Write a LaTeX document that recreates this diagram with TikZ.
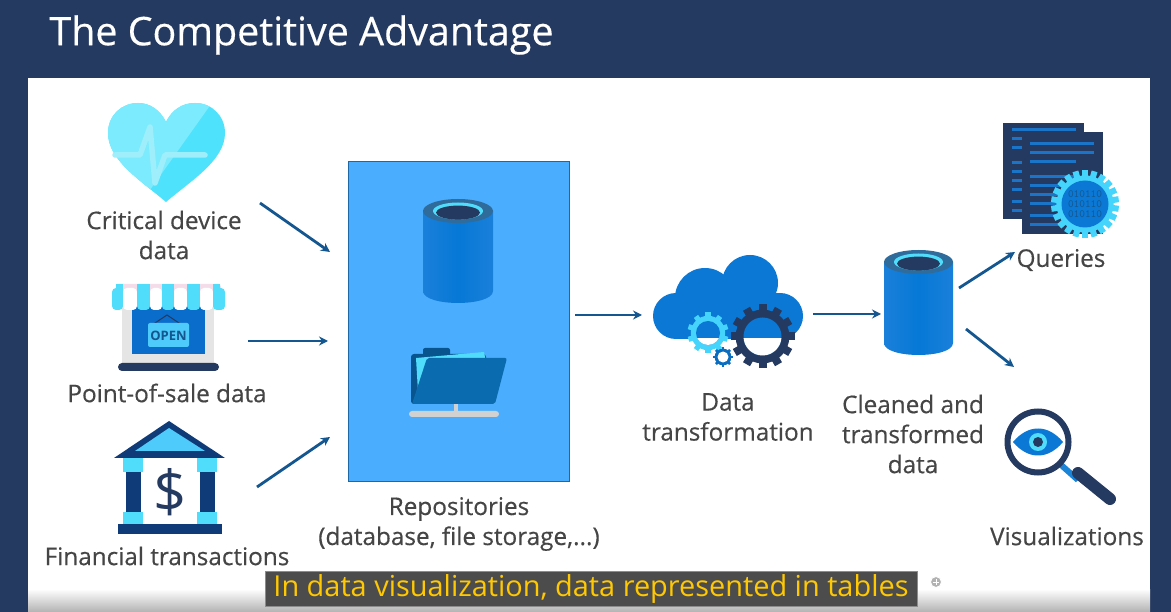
\documentclass[tikz,border=0pt]{standalone}
\usepackage{fontspec}
\setmainfont{Open Sans}
\newfontfamily\labfont{Open Sans}[RawFeature={embolden=0.4}]
\usetikzlibrary{arrows.meta}
\definecolor{navy}{HTML}{253A60}
\definecolor{arrowblue}{HTML}{14568F}
\definecolor{midblue}{HTML}{0678D6}
\definecolor{edgeblue}{HTML}{1A80DA}
\definecolor{cyanb}{HTML}{4FDDFB}
\definecolor{panelblue}{HTML}{4BADFE}
\definecolor{labelgrey}{HTML}{454545}
\definecolor{folderblue}{HTML}{0B6BAF}
\definecolor{heartbase}{HTML}{4FE2FC}
\definecolor{heartlight}{HTML}{7BEBFD}
\definecolor{heartlow}{HTML}{62E0FA}
\definecolor{pulse}{HTML}{9FEEFB}
\definecolor{doorblue}{HTML}{0A6DCB}
\definecolor{awningpink}{HTML}{F4DDE8}
\definecolor{signblue}{HTML}{4FCBFB}
\definecolor{bankblue}{HTML}{0F3C78}
\definecolor{folderdark}{HTML}{07548F}
\definecolor{cloudblue}{HTML}{0A78D4}
\definecolor{smallgear}{HTML}{0A6DC0}
\definecolor{lineblue}{HTML}{1A75C8}
\definecolor{gearcyan}{HTML}{45D4FB}
\definecolor{handleblue}{HTML}{1A85D8}
\definecolor{capyellow}{HTML}{FFC800}
\definecolor{ringblue}{HTML}{2F6C9C}
\tikzset{
  conn/.style={draw=arrowblue,line width=2.8pt,-{Stealth[length=9pt,width=9pt]}},
  lab/.style={text=labelgrey,font=\labfont\fontsize{24.3}{30}\selectfont,align=center,inner sep=0pt,anchor=center},
  x=1pt,y=-1pt
}
% gear: cx cy outer-radius tooth-half-width count colour
\newcommand{\gearshape}[6]{%
  \fill[#6] (#1,#2) circle[radius=0.84*#3];
  \foreach \gang in {1,...,#5}{%
    \fill[#6,rotate around={\gang*360/#5:(#1,#2)}] (#1-#4,#2) rectangle (#1+#4,#2-#3);
  }%
}
% cylinder: cx half-width cy-top cy-bottom ry
\newcommand{\cylinder}[5]{%
  \path[left color=edgeblue,right color=edgeblue,middle color=midblue]
    (#1-#2,#3) -- (#1-#2,#4) .. controls (#1-#2,#4+1.33*#5) and (#1+#2,#4+1.33*#5) .. (#1+#2,#4) -- (#1+#2,#3) -- cycle;
  \fill[ringblue] (#1,#3) ellipse[x radius=#2,y radius=#5];
  \fill[cyanb] (#1,#3) ellipse[x radius=#2-10,y radius=#5-3.5];
  \fill[navy] (#1,#3+1.6) ellipse[x radius=#2-13,y radius=#5-5];
}
\begin{document}
\begin{tikzpicture}
\useasboundingbox (0,0) rectangle (1171,612);
\fill[navy] (0,0) rectangle (1171,612);
\fill[white] (28,78) rectangle (1150,590);
\path[top color=white,bottom color=black!30] (28,589) rectangle (1150,612);
\node[text=white,font=\labfont\fontsize{39.4}{42}\selectfont,inner sep=0pt,anchor=center] (title) at (301.5,35) {The Competitive Advantage};

% heart
\begin{scope}
\clip (166,202) .. controls (140,180) and (108,160) .. (108,133) .. controls (108,115) and (122,103) .. (138,103) .. controls (150,103) and (160,110) .. (166,122) .. controls (172,110) and (182,103) .. (195,103) .. controls (212,103) and (225,116) .. (225,133) .. controls (225,160) and (192,180) .. (166,202) -- cycle;
\fill[heartbase] (100,100) rectangle (230,205);
\fill[heartlight] (100,100) -- (214,100) -- (150,190) -- (100,170) -- cycle;
\fill[heartlow] (100,170) -- (150,190) -- (166,205) -- (100,205) -- cycle;
\end{scope}
\draw[pulse,line width=5.5pt,line cap=round,line join=round] (115,155) -- (140,155) -- (150,127) -- (155,183) -- (165,155) -- (205,155);
\node[lab] (critical) at (164,235) {Critical device\\data};

% store
\fill[black!10] (122,306) rectangle (214,363);
\fill[doorblue] (132,303) rectangle (205,354);
\fill[awningpink,rounded corners=3pt] (116,284) rectangle (221,296);
\foreach \sx/\sw/\sc in {112/11/cyanb,123/14/white,137/13/cyanb,150/12/white,162/12/cyanb,174/13/white,187/13/cyanb,200/13/white,213/12/cyanb}{
  \fill[\sc,rounded corners=4pt] (\sx,288) rectangle (\sx+\sw,310);
}
\foreach \sx/\sw in {116/7,137/13,162/12,187/13,213/7}{ \fill[cyanb] (\sx,284) rectangle (\sx+\sw,296); }
\draw[navy,line width=1pt] (152,325) -- (167,315) -- (182,325);
\fill[signblue,rounded corners=2pt] (148,323) rectangle (189,347);
\node[font=\fontsize{13}{14}\selectfont\bfseries,text=arrowblue,inner sep=0pt] (open) at (168.5,336) {OPEN};
\fill[navy,rounded corners=4pt] (118,363) rectangle (219,371);
\node[lab] (pos) at (167,393) {Point-of-sale data};

% bank
\fill[bankblue] (169,421) -- (225,458) -- (114,458) -- cycle;
\fill[signblue] (169,428) -- (205,451) -- (135,451) -- cycle;
\foreach \bx in {133,207}{
  \fill[bankblue] (\bx-7.5,472) rectangle (\bx+7.5,512);
  \fill[cyanb] (\bx-10,458) rectangle (\bx+10,472);
  \fill[cyanb] (\bx-10,512) rectangle (\bx+10,524);
}
\fill[bankblue] (118,524) rectangle (222,534);
\node[font=\fontsize{58}{58}\selectfont,text=navy,inner sep=0pt] (dollar) at (170,492) {\$};
\node[lab] (fin) at (167,556) {Financial transactions};

% repositories panel
\node[draw=arrowblue!80!panelblue,fill=panelblue,line width=1pt,minimum width=221pt,minimum height=319pt,inner sep=0pt] (repo) at (458.5,321.5) {};
\cylinder{458}{35}{211}{291}{12}
% folder
\fill[folderdark,rounded corners=2pt] (423,348) rectangle (450,358);
\fill[folderdark,rounded corners=3pt] (411,354) rectangle (486,404);
\fill[cyanb] (416,358) -- (484,352) -- (486,362) -- (427,362) -- (418,392) -- cycle;
\fill[folderblue,rounded corners=2pt] (427,358) -- (507,358) -- (495,404) -- (412,404) -- cycle;
\fill[black!18] (454,404) rectangle (458,412);
\fill[black!18,rounded corners=3pt] (409,411) rectangle (499,417);
\node[lab] (repolab) at (459,524) {Repositories\\(database, file storage,...)};

% cloud and gears
\fill[cloudblue] (676,316) circle[radius=23] (705,298) circle[radius=30] (750,283) circle[radius=28] (780,316) circle[radius=23];
\fill[cloudblue] (676,293) rectangle (780,339);
\fill[cloudblue] (705,290) rectangle (755,339);
\fill[white] (650,339) rectangle (806,345);
\gearshape{708}{333}{20.5}{2.6}{10}{gearcyan}
\fill[cloudblue] (708,333) circle[radius=12];
\begin{scope}\clip (690,339) rectangle (726,350); \fill[white] (708,333) circle[radius=12]; \end{scope}
\gearshape{723}{357}{10}{1.3}{8}{smallgear}
\fill[white] (723,357) circle[radius=5.5];
\gearshape{762.5}{336.5}{32}{4}{12}{navy}
\fill[cloudblue] (762.5,336.5) circle[radius=19];
\begin{scope}\clip (740,339) rectangle (785,360); \fill[white] (762.5,336.5) circle[radius=19]; \end{scope}
\node[lab] (trans) at (728,417) {Data\\transformation};

\cylinder{918.5}{34.5}{262}{343}{12}
\node[lab] (clean) at (913,434) {Cleaned and\\transformed\\data};

% documents
\fill[navy] (1003,123) rectangle (1084,219);
\fill[navy] (1022,132) rectangle (1103,234);
\foreach \ly in {139,148,163,172,181,190,202,211}{ \draw[lineblue,line width=3pt] (1012,\ly) -- (1022,\ly); }
\draw[lineblue,line width=3pt] (1012,130) -- (1076,130);
\foreach \ly/\lx in {144/1094,153/1094,162/1076,177/1075,186/1075,195/1060,204/1060,216/1060,225/1060}{ \draw[lineblue,line width=3pt] (1030,\ly) -- (\lx,\ly); }
\gearshape{1085}{204}{34}{3}{22}{gearcyan}
\fill[cloudblue] (1085,204) circle[radius=23.5];
\node[font=\fontsize{11}{10}\selectfont\ttfamily,text=arrowblue,align=center,inner sep=0pt] (bits) at (1085,204) {010110\\010110\\010110};
\node[lab] (queries) at (1061,260) {Queries};

% magnifier
\draw[handleblue,line width=6pt] (1060,464) -- (1078,480);
\draw[navy,line width=12pt,line cap=round] (1078,473) -- (1110,499);
\draw[navy,line width=6pt,fill=white] (1038,442) circle[radius=30.5];
\fill[cloudblue] (1013,442) .. controls (1028,424) and (1048,424) .. (1063,442) .. controls (1048,460) and (1028,460) .. (1013,442) -- cycle;
\fill[cyanb] (1038,442) circle[radius=9];
\fill[navy] (1038,442) circle[radius=5];
\node[lab] (vis) at (1067,536) {Visualizations};

% connectors
\coordinate (a1) at (260,203); \coordinate (b1) at (330,252);
\coordinate (a2) at (248,341); \coordinate (b2) at (328,341);
\coordinate (a3) at (257,487); \coordinate (b3) at (330,437);
\coordinate (a4) at (575,315); \coordinate (b4) at (642,315);
\coordinate (a5) at (813,314); \coordinate (b5) at (881,314);
\coordinate (a6) at (959,288); \coordinate (b6) at (1015,252);
\coordinate (a7) at (966,329); \coordinate (b7) at (1014,367);
\foreach \i in {1,...,7}{ \draw[conn] (a\i) -- (b\i); }

% caption
\node[fill=black!70,draw=black!45,line width=.6pt,text=capyellow,font=\fontsize{28.9}{30}\selectfont,minimum width=652pt,minimum height=35pt,inner sep=0pt] (cap) at (591,588.5) {\raisebox{-2.5pt}{In data visualization, data represented in tables}};
\draw[white,line width=.9pt,fill=black!30] (936,582) circle[radius=5.5];
\draw[white,line width=.9pt] (933,582) -- (939,582) (936,579) -- (936,585);
\end{tikzpicture}
\end{document}
